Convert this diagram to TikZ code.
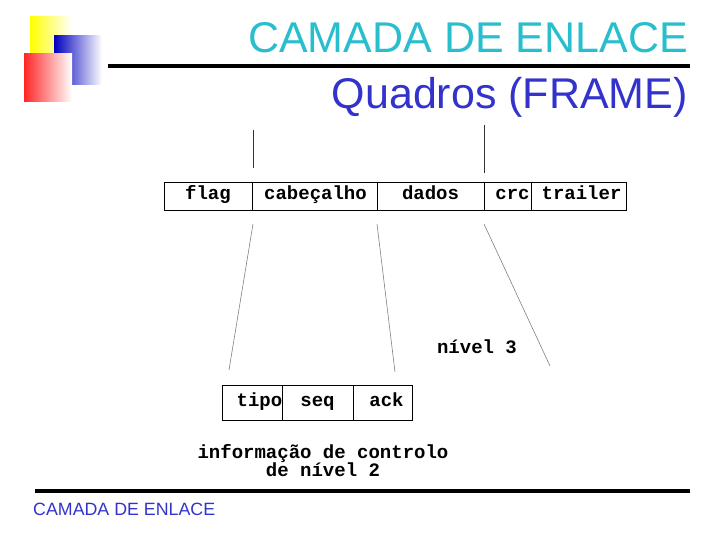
\documentclass[tikz,border=0pt]{standalone}
\usepackage{fontspec}
\setmainfont{Liberation Sans}
\newfontfamily\mono{Liberation Mono}
\begin{document}
\begin{tikzpicture}[x=1pt,y=-1pt,
  cell/.style={draw,line width=0.9pt,minimum height=28pt,inner sep=0pt,text height=11pt,text depth=3pt,font=\mono\bfseries\fontsize{19}{19}\selectfont},
  lab/.style={font=\mono\bfseries\fontsize{19}{18}\selectfont,inner sep=0pt},
  lead/.style={draw=gray,line width=0.6pt},
  tick/.style={draw=black!80,line width=0.9pt}]
\useasboundingbox (0,0) rectangle (720,540);
\shade[left color=yellow,right color=white] (30,17) rectangle (72,55);
\shade[left color=blue!75!black,right color=white] (54,36) rectangle (102,85);
\shade[left color=red!85,right color=white] (24,54) rectangle (72,102);
\draw[line width=4pt] (108,66) -- (690,66);
\draw[line width=4pt] (35,491) -- (690,491);
\node[anchor=east,text={rgb,255:red,40;green,190;blue,205},font=\fontsize{43}{43}\selectfont,inner sep=0pt] (t1) at (688,38) {CAMADA DE ENLACE};
\node[anchor=east,text={rgb,255:red,51;green,51;blue,204},font=\fontsize{43}{43}\selectfont,inner sep=0pt] (t2) at (688,97) {Quadros (FRAME)};
\node[anchor=west,text={rgb,255:red,51;green,51;blue,204},font=\fontsize{17.8}{18}\selectfont,inner sep=0pt] (ft) at (33,509) {CAMADA DE ENLACE};
% frame
\node[cell,minimum width=88pt] (flag) at (208,196) {flag};
\node[cell,minimum width=125pt] (cab) at (314.5,196) {\hspace*{2pt}cabeçalho};
\node[cell,minimum width=107pt] (dad) at (430.5,196) {dados};
\node[cell,minimum width=47pt] (crc) at (507.5,196) {\hspace*{10pt}crc};
\node[cell,minimum width=95pt] (trl) at (578.5,196) {\hspace*{6pt}trailer};
% lower
\node[cell,minimum width=59pt,minimum height=35pt] (tipo) at (252.5,402.5) {\hspace*{14pt}tipo};
\node[cell,minimum width=71pt,minimum height=35pt] (seq) at (317.5,402.5) {seq};
\node[cell,minimum width=59pt,minimum height=35pt] (ack) at (382.5,402.5) {\hspace*{8pt}ack};
\coordinate (a1) at (253,130); \coordinate (a2) at (253,168);
\coordinate (b1) at (484,125); \coordinate (b2) at (484,173);
\draw[tick] (a1) -- (a2); \draw[tick] (b1) -- (b2);
\coordinate (l1) at (253,224); \coordinate (l1e) at (229,370);
\coordinate (l2) at (377,224); \coordinate (l2e) at (395,372);
\coordinate (l3) at (484,224); \coordinate (l3e) at (550,366);
\draw[lead] (l1) -- (l1e); \draw[lead] (l2) -- (l2e); \draw[lead] (l3) -- (l3e);
\node[lab] (n3) at (477,347) {nível 3};
\node[lab,align=center] (inf) at (323,461) {informação de controlo\\de nível 2};
\end{tikzpicture}
\end{document}
